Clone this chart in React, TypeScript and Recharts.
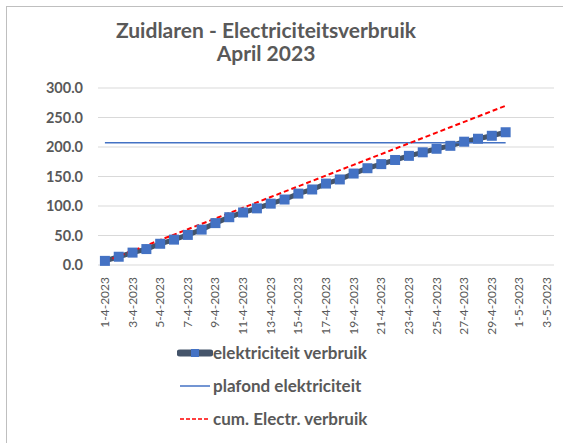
import { CartesianGrid, Line, LineChart, XAxis, YAxis } from 'recharts';

const dates = [
  '1-4-2023', '2-4-2023', '3-4-2023', '4-4-2023', '5-4-2023', '6-4-2023', '7-4-2023', '8-4-2023', '9-4-2023', '10-4-2023',
  '11-4-2023', '12-4-2023', '13-4-2023', '14-4-2023', '15-4-2023', '16-4-2023', '17-4-2023', '18-4-2023', '19-4-2023', '20-4-2023',
  '21-4-2023', '22-4-2023', '23-4-2023', '24-4-2023', '25-4-2023', '26-4-2023', '27-4-2023', '28-4-2023', '29-4-2023', '30-4-2023',
];

const verbruik = [7, 14, 21, 27, 36, 43, 51, 60, 71, 81, 89, 96, 104, 111, 121, 128, 138, 145, 155, 164, 171, 178, 185, 191, 197, 202, 209, 214, 219, 225];

const plafond = [207, 207, 207, 207, 207, 207, 207, 207, 207, 207, 207, 207, 207, 207, 207, 207, 207, 207, 207, 207, 207, 207, 207, 207, 207, 207, 207, 207, 207, 207];

const cumVerbruik = [
  6.0, 15.1, 24.2, 33.3, 42.4, 51.5, 60.6, 69.7, 78.8, 87.9, 97.0, 106.1, 115.2, 124.3, 133.4,
  142.5, 151.6, 160.7, 169.8, 178.9, 188.0, 197.1, 206.2, 215.3, 224.4, 233.5, 242.6, 251.7, 260.8, 269.9,
];

const tickLabels = [
  '1-4-2023', '3-4-2023', '5-4-2023', '7-4-2023', '9-4-2023', '11-4-2023', '13-4-2023', '15-4-2023', '17-4-2023',
  '19-4-2023', '21-4-2023', '23-4-2023', '25-4-2023', '27-4-2023', '29-4-2023', '1-5-2023', '3-5-2023',
];

const yTicks = [0, 50, 100, 150, 200, 250, 300];

const data = dates.map((date, i) => ({
  day: i + 1,
  date,
  verbruik: verbruik[i],
  plafond: plafond[i],
  cum: cumVerbruik[i],
}));

const labelTicks = tickLabels.map((_, i) => 1 + i * 2);
const markTicks = tickLabels.map((_, i) => 0.5 + i * 2);

const font = 'Lato, "Open Sans", sans-serif';
const grey = '#595959';

const SquareDot = (props: any) => {
  const { cx, cy, index } = props;
  if (cx == null || cy == null) return <g key={`d-${index}`} />;
  return <rect key={`d-${index}`} x={cx - 5} y={cy - 5} width={10} height={10} fill="#4472C4" />;
};

const DateTick = (props: any) => {
  const { x, y, payload } = props;
  const label = tickLabels[(payload.value - 1) / 2] ?? '';
  return (
    <text
      x={x + 4}
      y={y + 4}
      transform={`rotate(-90 ${x + 4} ${y + 4})`}
      textAnchor="end"
      fill={grey}
      fontSize={12}
      fontFamily={font}
    >
      {label}
    </text>
  );
};

const LegendBox = () => {
  const rows = [
    { label: 'elektriciteit verbruik', kind: 'main' },
    { label: 'plafond elektriciteit', kind: 'cap' },
    { label: 'cum. Electr. verbruik', kind: 'cum' },
  ];
  return (
    <div style={{ fontFamily: font, fontWeight: 700, fontSize: 17, color: grey }}>
      {rows.map((r) => (
        <div key={r.label} style={{ display: 'flex', alignItems: 'center', height: 33 }}>
          <svg width={36} height={12} style={{ marginRight: 0 }}>
            {r.kind === 'main' && (
              <>
                <line x1={3} y1={6} x2={33} y2={6} stroke="#44546A" strokeWidth={7} strokeLinecap="round" />
                <rect x={14} y={2} width={8} height={8} fill="#4472C4" />
              </>
            )}
            {r.kind === 'cap' && <line x1={3} y1={6} x2={33} y2={6} stroke="#4472C4" strokeWidth={1.5} />}
            {r.kind === 'cum' && (
              <line x1={3} y1={6} x2={33} y2={6} stroke="#FF0000" strokeWidth={1.5} strokeDasharray="4 2" />
            )}
          </svg>
          <span>{r.label}</span>
        </div>
      ))}
    </div>
  );
};

export default function App() {
  return (
    <div style={{ position: 'absolute', left: 0, top: 0, width: 563, height: 443, background: '#fff', overflow: 'hidden' }}>
      <div
        style={{
          position: 'absolute',
          left: 6,
          top: 6,
          width: 563,
          height: 443,
          borderTop: '1px solid #bfbfbf',
          borderLeft: '1px solid #bfbfbf',
        }}
      />
      <div
        style={{
          position: 'absolute',
          left: 0,
          width: 532,
          top: 18,
          textAlign: 'center',
          fontFamily: font,
          fontWeight: 700,
          fontSize: 21,
          lineHeight: '23px',
          color: grey,
        }}
      >
        <div>Zuidlaren - Electriciteitsverbruik</div>
        <div>April 2023</div>
      </div>
      <LineChart
        width={563}
        height={443}
        data={data}
        margin={{ top: 88, right: 9, bottom: 0, left: 8 }}
        style={{ position: 'absolute', left: 0, top: 0 }}
      >
        <CartesianGrid vertical={false} stroke="#d9d9d9" />
        <XAxis
          xAxisId="marks"
          dataKey="day"
          type="number"
          domain={[0.5, 33.5]}
          ticks={markTicks}
          tick={false}
          tickLine={{ stroke: '#d9d9d9' }}
          tickSize={5}
          axisLine={{ stroke: '#d9d9d9' }}
          height={0}
          allowDataOverflow
        />
        <XAxis
          dataKey="day"
          type="number"
          domain={[0.5, 33.5]}
          ticks={labelTicks}
          interval={0}
          tick={<DateTick />}
          tickLine={false}
          axisLine={false}
          height={178}
          allowDataOverflow
        />
        <YAxis
          domain={[0, 300]}
          ticks={yTicks}
          tickFormatter={(v: number) => v.toFixed(1)}
          tick={{ fill: grey, fontSize: 14.5, fontWeight: 700, fontFamily: font }}
          axisLine={false}
          tickLine={false}
          width={90}
          tickMargin={9}
        />
        <Line
          dataKey="verbruik"
          name="elektriciteit verbruik"
          stroke="#44546A"
          strokeWidth={5}
          dot={<SquareDot />}
          activeDot={false}
          isAnimationActive={false}
        />
        <Line
          dataKey="plafond"
          name="plafond elektriciteit"
          stroke="#4472C4"
          strokeWidth={1.5}
          dot={false}
          activeDot={false}
          isAnimationActive={false}
        />
        <Line
          dataKey="cum"
          name="cum. Electr. verbruik"
          stroke="#FF0000"
          strokeWidth={2}
          strokeDasharray="5 3"
          dot={false}
          activeDot={false}
          isAnimationActive={false}
        />
      </LineChart>
      <div style={{ position: 'absolute', left: 177, top: 336 }}>
        <LegendBox />
      </div>
    </div>
  );
}
